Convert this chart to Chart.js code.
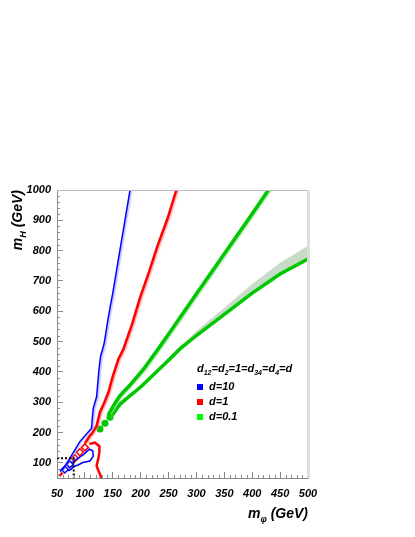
<!DOCTYPE html>
<html>
<head>
<meta charset="utf-8">
<script src="https://cdn.jsdelivr.net/npm/chart.js@4.4.0/dist/chart.umd.min.js"></script>
<style>
  html, body { margin: 0; padding: 0; background: #fff; }
  #wrap { width: 415px; height: 537px; }
</style>
</head>
<body>
<div id="wrap"><canvas id="limitChart" width="415" height="537"></canvas></div>
<script>
// axes (GeV)
const xMin = 50, xMax = 500, xStep = 50, xMinor = 10;
const yMin = 50, yMax = 1000, yStep = 100, yMinor = 20;

// d = 10 (blue)
const blueX = [55, 61, 73, 91, 112, 113, 115, 121, 123, 125, 128, 134, 136, 142, 145, 150, 160, 170, 181];
const blueY = [72, 80, 115, 170, 214, 240, 280, 318, 360, 403, 450, 490, 510, 580, 610, 660, 770, 880, 1000];
const blueLoopX = [78, 86, 98, 108, 114, 115, 109, 96, 88, 80, 75, 70];
const blueLoopY = [104, 113, 128, 145, 140, 122, 106, 101, 93, 88, 78, 74];
const blueIslandX = [64, 73];
const blueIslandY = [78, 95];

// d = 1 (red)
const redX = [100, 109, 112, 121, 127, 135, 142, 150, 160, 169, 185, 199, 215, 230, 248, 264];
const redY = [164, 190, 195, 222, 267, 300, 332, 385, 442, 475, 560, 646, 730, 815, 905, 1000];
const redLowX = [108, 118, 126, 126, 124, 121, 124, 127, 129];
const redLowY = [162, 167, 155, 135, 113, 91, 75, 63, 50];
const redIslandX = [82, 91, 100];
const redIslandY = [115, 135, 151];
const redStubX = [54, 60];
const redStubY = [56, 68];

// d = 0.1 (green)
const greenUpX = [429, 400, 350, 300, 252, 229, 205, 180, 163, 155, 147, 143, 144, 147];
const greenUpY = [1000, 922, 790, 658, 530, 470, 409, 355, 322, 300, 275, 262, 254, 251];
const greenLowX = [147, 151, 163, 180, 200, 252, 270, 300, 350, 400, 450, 500];
const greenLowY = [251, 262, 294, 320, 350, 442, 475, 520, 590, 660, 723, 772];
const greenBandX = [150, 200, 250, 300, 350, 400, 450, 500];
const greenBandY = [256, 355, 448, 535, 612, 690, 760, 816];
const greenDotX = [127, 136, 145];
const greenDotY = [212, 231, 250];

// excluded corner (dotted)
const cutX = [50, 80, 80];
const cutY = [115, 115, 50];

// texts
const legendTitle = [['d'], ['12', 1], ['=d'], ['2', 1], ['=1=d'], ['34', 1], ['=d'], ['4', 1], ['=d']];
const legendLabels = ['d=10', 'd=1', 'd=0.1'];
const legendColors = ['#0000ff', '#ff0000', '#00ff00'];
const xTitle = [['m'], ['\u03c6', 1], [' (GeV)']];
const yTitle = [['m'], ['H', 1], [' (GeV)']];

const FAMILY = '"Liberation Sans", Helvetica, Arial, sans-serif';

function pts(xs, ys) {
    return xs.map((x, i) => ({ x: x, y: ys[i] }));
}

function curve(xs, ys, color, width, extra) {
    return Object.assign({
        data: pts(xs, ys),
        showLine: true,
        borderColor: color,
        borderWidth: width,
        pointRadius: 0,
        fill: false,
        tension: 0
    }, extra || {});
}

function islands(xs, ys, color) {
    return {
        data: pts(xs, ys),
        showLine: false,
        pointStyle: 'rectRot',
        pointRadius: 3.5,
        pointBorderWidth: 1.5,
        pointBorderColor: color,
        pointBackgroundColor: '#fff'
    };
}

function drawRich(ctx, parts, x, y, align, size) {
    const big = 'italic bold ' + size + 'px ' + FAMILY;
    const small = 'italic bold ' + Math.round(size * 0.65) + 'px ' + FAMILY;
    let w = 0;
    parts.forEach(p => { ctx.font = p[1] ? small : big; w += ctx.measureText(p[0]).width; });
    let cx = align === 'right' ? x - w : x;
    ctx.textAlign = 'left';
    ctx.textBaseline = 'alphabetic';
    parts.forEach(p => {
        ctx.font = p[1] ? small : big;
        ctx.fillText(p[0], cx, p[1] ? y + size * 0.3 : y);
        cx += ctx.measureText(p[0]).width;
    });
}

// soft edge on the right side of the contour lines
const fadePlugin = {
    id: 'fade',
    beforeDatasetDraw(chart, args) {
        const ds = chart.data.datasets[args.index];
        if (!ds.fade) return;
        const ctx = chart.ctx;
        ctx.save();
        ctx.shadowColor = ds.fade;
        ctx.shadowOffsetX = 1.5;
        ctx.shadowBlur = 1.5;
    },
    afterDatasetDraw(chart, args) {
        const ds = chart.data.datasets[args.index];
        if (ds.fade) chart.ctx.restore();
    }
};

// frame, minor ticks, titles and legend
const decorPlugin = {
    id: 'decor',
    afterDraw(chart) {
        const ctx = chart.ctx;
        const a = chart.chartArea;
        const xs = chart.scales.x, ys = chart.scales.y;
        ctx.save();
        // top and right edge of frame
        ctx.strokeStyle = '#bbbbbb';
        ctx.lineWidth = 1;
        ctx.beginPath();
        ctx.moveTo(a.left, a.top + 0.5);
        ctx.lineTo(a.right, a.top + 0.5);
        ctx.stroke();
        ctx.strokeStyle = '#dddddd';
        ctx.lineWidth = 3;
        ctx.beginPath();
        ctx.moveTo(a.right + 0.5, a.top);
        ctx.lineTo(a.right + 0.5, a.bottom);
        ctx.stroke();

        // minor ticks
        ctx.strokeStyle = '#8a8a8a';
        ctx.lineWidth = 1;
        ctx.beginPath();
        for (let v = xMin + xMinor; v < xMax; v += xMinor) {
            if (v % xStep === 0) continue;
            const px = Math.round(xs.getPixelForValue(v)) + 0.5;
            ctx.moveTo(px, a.bottom);
            ctx.lineTo(px, a.bottom - 3);
        }
        for (let v = 60; v < yMax; v += yMinor) {
            if (v % yStep === 0) continue;
            const py = Math.round(ys.getPixelForValue(v)) + 0.5;
            ctx.moveTo(a.left, py);
            ctx.lineTo(a.left + 3, py);
        }
        ctx.stroke();

        // axis titles
        ctx.fillStyle = '#000';
        drawRich(ctx, xTitle, a.right, a.bottom + 40, 'right', 14);
        ctx.save();
        ctx.translate(22, a.top);
        ctx.rotate(-Math.PI / 2);
        drawRich(ctx, yTitle, 0, 0, 'right', 14);
        ctx.restore();

        // legend
        const lx = a.left + 140, ly = a.top + 182;
        drawRich(ctx, legendTitle, lx, ly, 'left', 11);
        legendLabels.forEach((lab, i) => {
            const cy = ly + 15 + i * 15;
            ctx.fillStyle = legendColors[i];
            ctx.fillRect(lx, cy - 3, 6, 6);
            ctx.fillStyle = '#000';
            ctx.font = 'italic bold 11px ' + FAMILY;
            ctx.textAlign = 'left';
            ctx.textBaseline = 'middle';
            ctx.fillText(lab, lx + 12, cy);
        });
        ctx.restore();
    }
};

const tickFont = { family: FAMILY, size: 11, weight: 'bold', style: 'italic' };

const ctx = document.getElementById('limitChart').getContext('2d');
const chart = new Chart(ctx, {
    type: 'scatter',
    data: {
        datasets: [
            curve(cutX, cutY, '#000', 2, { borderDash: [2, 2] }),
            curve(blueX, blueY, '#0000ff', 1.5, { fade: 'rgba(120,120,255,0.6)' }),
            curve(blueLoopX, blueLoopY, '#0000ff', 1.5),
            islands(blueIslandX, blueIslandY, '#0000ff'),
            curve(redX, redY, '#ff0000', 2.5, { fade: 'rgba(255,130,130,0.7)' }),
            curve(redLowX, redLowY, '#ff0000', 2.5),
            curve(redStubX, redStubY, '#ff0000', 2.5),
            islands(redIslandX, redIslandY, '#ff0000'),
            curve(greenUpX, greenUpY, '#00c800', 3.5, { fade: 'rgba(120,200,120,0.6)' }),
            curve(greenLowX, greenLowY, '#00c800', 3.5),
            curve(greenBandX, greenBandY, 'rgba(0,0,0,0)', 0, { fill: { target: '-1' }, backgroundColor: 'rgba(130,175,130,0.45)' }),
            {
                data: pts(greenDotX, greenDotY),
                showLine: false,
                pointStyle: 'circle',
                pointRadius: 3.5,
                pointBorderWidth: 0,
                pointBackgroundColor: '#00c800'
            }
        ]
    },
    options: {
        responsive: false,
        animation: false,
        devicePixelRatio: 1,
        layout: { padding: { left: 0, top: 190, right: 107, bottom: 0 } },
        plugins: {
            legend: { display: false },
            tooltip: { enabled: false }
        },
        scales: {
            x: {
                type: 'linear',
                min: xMin, max: xMax,
                afterFit: s => { s.height = 59; },
                grid: { drawOnChartArea: false, tickLength: -6, color: '#8a8a8a' },
                border: { color: '#8a8a8a' },
                ticks: { stepSize: xStep, font: tickFont, color: '#000', padding: 15, maxRotation: 0, callback: v => String(v) }
            },
            y: {
                type: 'linear',
                min: yMin, max: yMax,
                afterFit: s => { s.width = 57; },
                afterBuildTicks: s => { s.ticks = s.ticks.filter(t => t.value % yStep === 0); },
                grid: { drawOnChartArea: false, tickLength: -6, color: '#8a8a8a' },
                border: { color: '#8a8a8a' },
                ticks: { stepSize: yStep, font: tickFont, color: '#000', padding: 12, callback: v => String(v) }
            }
        }
    },
    plugins: [fadePlugin, decorPlugin]
});
</script>
</body>
</html>
